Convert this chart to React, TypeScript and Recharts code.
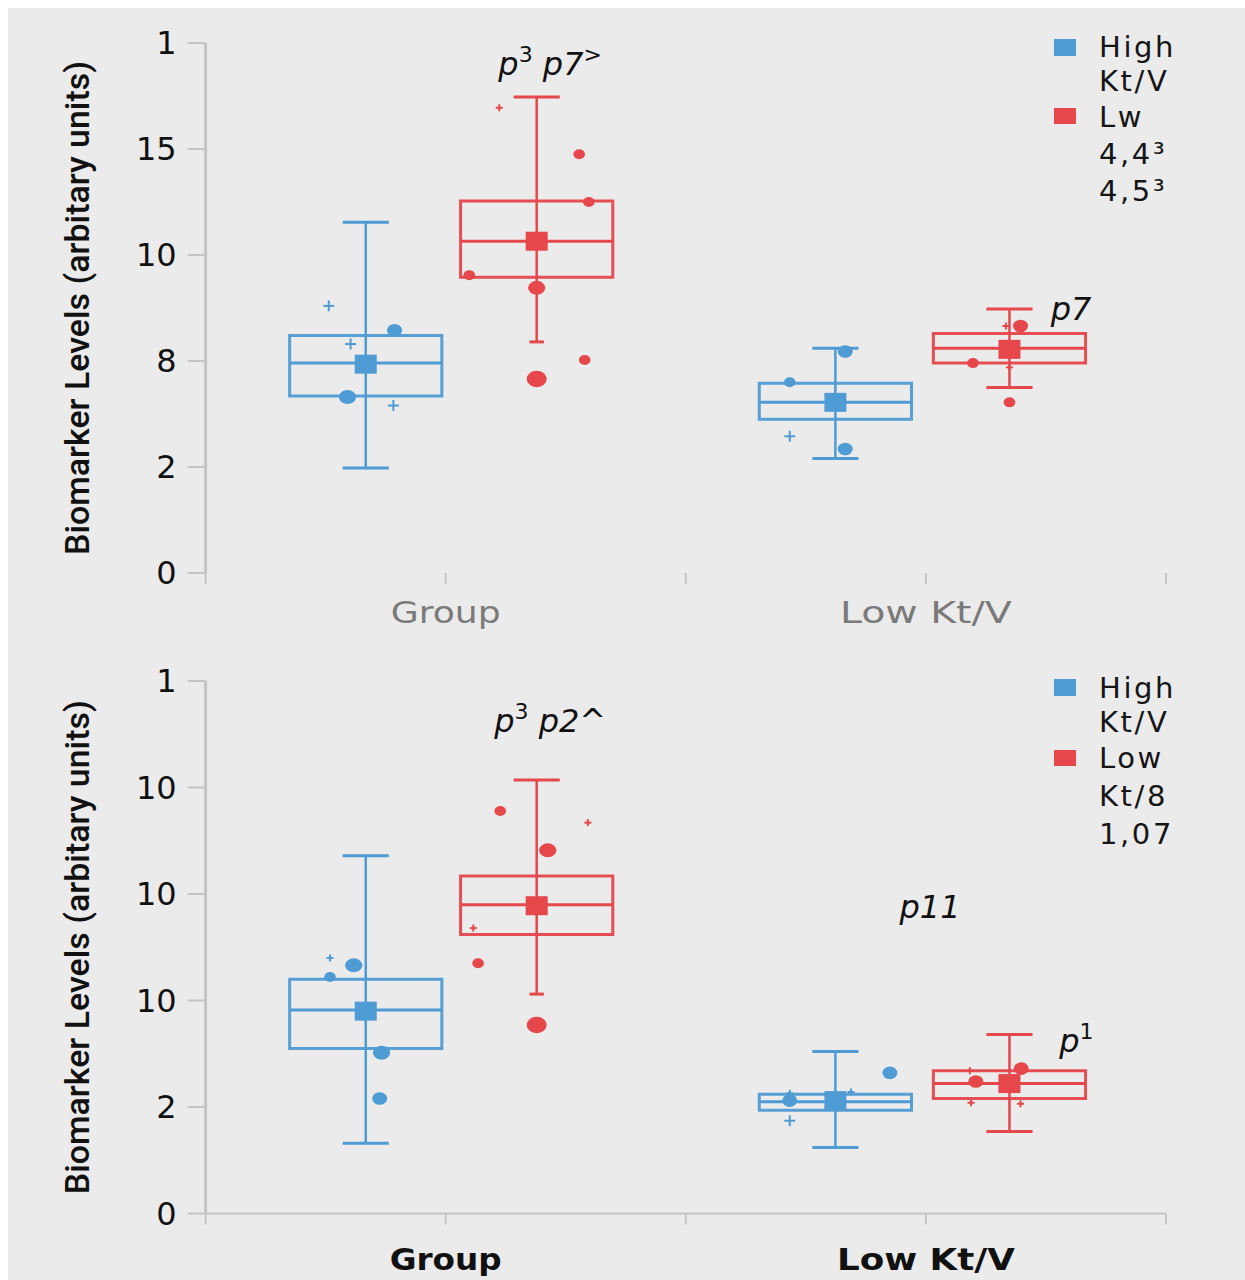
import React from 'react';
import {
  ComposedChart,
  XAxis,
  YAxis,
  Scatter,
  ReferenceArea,
  ReferenceLine,
  ReferenceDot,
  Legend,
} from 'recharts';

// ---------- data (values in axis position units: 0..5, one unit per labelled tick) ----------
const categories = ['Group', 'Low Kt/V'];
const xTickLabels = ['', categories[0], '', categories[1], ''];
const topYTickLabels = ['0', '2', '8', '10', '15', '1'];
const bottomYTickLabels = ['0', '2', '10', '10', '10', '1'];
const yAxisTitle = 'Biomarker Levels (arbitary units)';

type Stat = { min: number; q1: number; median: number; q3: number; max: number; mean: number };
type Pt = { cat: number; dx: number; y: number; kind: string };

const topHighStats: Stat[] = [
  { min: 0.99, q1: 1.67, median: 1.98, q3: 2.24, max: 3.31, mean: 1.97 },
  { min: 1.08, q1: 1.45, median: 1.61, q3: 1.79, max: 2.12, mean: 1.61 },
];
const topLowStats: Stat[] = [
  { min: 2.18, q1: 2.79, median: 3.13, q3: 3.51, max: 4.49, mean: 3.13 },
  { min: 1.75, q1: 1.98, median: 2.12, q3: 2.26, max: 2.49, mean: 2.11 },
];
const bottomHighStats: Stat[] = [
  { min: 0.66, q1: 1.55, median: 1.91, q3: 2.2, max: 3.36, mean: 1.9 },
  { min: 0.62, q1: 0.97, median: 1.05, q3: 1.12, max: 1.52, mean: 1.06 },
];
const bottomLowStats: Stat[] = [
  { min: 2.06, q1: 2.62, median: 2.9, q3: 3.17, max: 4.07, mean: 2.89 },
  { min: 0.77, q1: 1.08, median: 1.22, q3: 1.34, max: 1.68, mean: 1.22 },
];

const topHighPoints: Pt[] = [
  { cat: 0, dx: -0.154, y: 2.52, kind: 'plus' },
  { cat: 0, dx: 0.12, y: 2.29, kind: 'm' },
  { cat: 0, dx: -0.063, y: 2.16, kind: 'plus' },
  { cat: 0, dx: -0.076, y: 1.66, kind: 'l' },
  { cat: 0, dx: 0.115, y: 1.58, kind: 'plus' },
  { cat: 1, dx: 0.041, y: 2.09, kind: 'm' },
  { cat: 1, dx: -0.19, y: 1.8, kind: 's' },
  { cat: 1, dx: -0.19, y: 1.29, kind: 'plus' },
  { cat: 1, dx: 0.041, y: 1.17, kind: 'm' },
];
const topLowPoints: Pt[] = [
  { cat: 0, dx: -0.156, y: 4.39, kind: 'tick' },
  { cat: 0, dx: 0.177, y: 3.95, kind: 's' },
  { cat: 0, dx: 0.217, y: 3.5, kind: 's' },
  { cat: 0, dx: -0.281, y: 2.81, kind: 's' },
  { cat: 0, dx: 0, y: 2.69, kind: 'l' },
  { cat: 0, dx: 0.2, y: 2.01, kind: 's' },
  { cat: 0, dx: 0, y: 1.83, kind: 'xl' },
  { cat: 1, dx: 0.046, y: 2.33, kind: 'm' },
  { cat: 1, dx: -0.015, y: 2.33, kind: 'tick' },
  { cat: 1, dx: -0.152, y: 1.98, kind: 's' },
  { cat: 1, dx: 0, y: 1.94, kind: 'tick' },
  { cat: 1, dx: 0, y: 1.61, kind: 's' },
];
const bottomHighPoints: Pt[] = [
  { cat: 0, dx: -0.149, y: 2.4, kind: 'tick' },
  { cat: 0, dx: -0.149, y: 2.22, kind: 's' },
  { cat: 0, dx: -0.05, y: 2.33, kind: 'l' },
  { cat: 0, dx: 0.066, y: 1.51, kind: 'l' },
  { cat: 0, dx: 0.058, y: 1.08, kind: 'm' },
  { cat: 1, dx: -0.19, y: 1.06, kind: 'm' },
  { cat: 1, dx: -0.19, y: 1.13, kind: 'tick' },
  { cat: 1, dx: -0.19, y: 0.87, kind: 'plus' },
  { cat: 1, dx: 0.227, y: 1.32, kind: 'm' },
  { cat: 1, dx: 0.065, y: 1.14, kind: 'tick' },
];
const bottomLowPoints: Pt[] = [
  { cat: 0, dx: -0.152, y: 3.78, kind: 's' },
  { cat: 0, dx: 0.213, y: 3.67, kind: 'tick' },
  { cat: 0, dx: 0.046, y: 3.41, kind: 'l' },
  { cat: 0, dx: -0.264, y: 2.68, kind: 'tick' },
  { cat: 0, dx: -0.244, y: 2.35, kind: 's' },
  { cat: 0, dx: 0, y: 1.77, kind: 'xl' },
  { cat: 1, dx: 0.049, y: 1.36, kind: 'm' },
  { cat: 1, dx: -0.14, y: 1.24, kind: 'm' },
  { cat: 1, dx: -0.165, y: 1.34, kind: 'tick' },
  { cat: 1, dx: -0.16, y: 1.04, kind: 'tick' },
  { cat: 1, dx: 0.046, y: 1.03, kind: 'tick' },
];

const topLegendHigh = ['High', 'Kt/V'];
const topLegendLow = ['Lw', '4,4³', '4,5³'];
const bottomLegendHigh = ['High', 'Kt/V'];
const bottomLegendLow = ['Low', 'Kt/8', '1,07'];

type Part = { t: string; sup?: boolean };
type Annot = { x: number; y: number; anchor: 'start' | 'middle'; parts: Part[] };
const topAnnotations: Annot[] = [
  { x: 1.435, y: 4.7, anchor: 'middle', parts: [{ t: 'p' }, { t: '3', sup: true }, { t: ' p7' }, { t: '>', sup: true }] },
  { x: 3.52, y: 2.39, anchor: 'start', parts: [{ t: 'p7' }] },
];
const bottomAnnotations: Annot[] = [
  { x: 1.435, y: 4.52, anchor: 'middle', parts: [{ t: 'p' }, { t: '3', sup: true }, { t: ' p2^' }] },
  { x: 2.89, y: 2.775, anchor: 'start', parts: [{ t: 'p11' }] },
  { x: 3.555, y: 1.516, anchor: 'start', parts: [{ t: 'p' }, { t: '1', sup: true }] },
];

// ---------- styling / layout ----------
const BLUE = '#4f9bd3';
const RED = '#e5474b';
const BG = '#ebebeb';
const AXIS = '#c4c4c4';
const BOX_HALF = 0.317;
const CAP_HALF = 0.096;
const SHORT_CAP_HALF = 0.03;
const boxOffsets: Record<'high' | 'low', number[]> = { high: [-0.333, -0.377], low: [0.379, 0.348] };
const DOT_SIZES: Record<string, [number, number]> = {
  s: [5.8, 5],
  m: [7.5, 6.3],
  l: [8.6, 7],
  xl: [10, 8.2],
};

const centerOf = (cat: number, series: 'high' | 'low') => cat * 2 + 1 + boxOffsets[series][cat];

function boxElements(stats: Stat[], series: 'high' | 'low', color: string) {
  const els: React.ReactElement[] = [];
  stats.forEach((s, i) => {
    const c = centerOf(i, series);
    const lowCap = series === 'low' && i === 0 ? SHORT_CAP_HALF : CAP_HALF;
    const k = `${series}-${i}`;
    els.push(
      <ReferenceLine key={`${k}-w`} segment={[{ x: c, y: s.min }, { x: c, y: s.max }]} stroke={color} strokeWidth={2.5} ifOverflow="visible" />
    );
    els.push(
      <ReferenceArea key={`${k}-b`} x1={c - BOX_HALF} x2={c + BOX_HALF} y1={s.q1} y2={s.q3} fill="none" fillOpacity={0} stroke={color} strokeWidth={3} strokeOpacity={0.95} ifOverflow="visible" />
    );
    els.push(
      <ReferenceLine key={`${k}-m`} segment={[{ x: c - BOX_HALF, y: s.median }, { x: c + BOX_HALF, y: s.median }]} stroke={color} strokeWidth={3} ifOverflow="visible" />
    );
    els.push(
      <ReferenceLine key={`${k}-ct`} segment={[{ x: c - CAP_HALF, y: s.max }, { x: c + CAP_HALF, y: s.max }]} stroke={color} strokeWidth={3} ifOverflow="visible" />
    );
    els.push(
      <ReferenceLine key={`${k}-cb`} segment={[{ x: c - lowCap, y: s.min }, { x: c + lowCap, y: s.min }]} stroke={color} strokeWidth={3} ifOverflow="visible" />
    );
  });
  return els;
}

const makeShape = (color: string) => (props: any) => {
  const { cx, cy, payload } = props;
  if (cx == null || cy == null) return <g />;
  const k = payload?.kind;
  if (k === 'plus' || k === 'tick') {
    const h = k === 'plus' ? 5.5 : 3.5;
    return (
      <g stroke={color} strokeWidth={2}>
        <line x1={cx - h} y1={cy} x2={cx + h} y2={cy} />
        <line x1={cx} y1={cy - h} x2={cx} y2={cy + h} />
      </g>
    );
  }
  if (k === 'mean') {
    return <rect x={cx - 11} y={cy - 9.5} width={22} height={19} fill={color} />;
  }
  const [rx, ry] = DOT_SIZES[k] || DOT_SIZES.m;
  return <ellipse cx={cx} cy={cy} rx={rx} ry={ry} fill={color} />;
};

const toScatter = (pts: Pt[], series: 'high' | 'low') =>
  pts.map((p) => ({ x: centerOf(p.cat, series) + p.dx, y: p.y, kind: p.kind }));
const toMeans = (stats: Stat[], series: 'high' | 'low') =>
  stats.map((s, i) => ({ x: centerOf(i, series), y: s.mean, kind: 'mean' }));

const annotationShape = (a: Annot) => (props: any) => {
  const { cx, cy } = props;
  if (cx == null || cy == null) return <g />;
  const spans: React.ReactElement[] = [];
  let raised = false;
  a.parts.forEach((p, i) => {
    let dy = 0;
    if (p.sup && !raised) {
      dy = -13;
      raised = true;
    } else if (!p.sup && raised) {
      dy = 13;
      raised = false;
    }
    spans.push(
      <tspan key={i} dy={dy} fontSize={p.sup ? 22 : 32} fontStyle={p.sup ? 'normal' : 'italic'}>
        {p.t}
      </tspan>
    );
  });
  return (
    <text x={cx} y={cy} textAnchor={a.anchor} fill="#111" fontFamily="DejaVu Sans" fontSize={32} style={{ whiteSpace: 'pre' }}>
      {spans}
    </text>
  );
};

type LegendCfg = {
  top: number;
  high: string[];
  low: string[];
  highLH: number;
  lowLH: number;
  gap: number;
  blueTop: number;
  redTop: number;
};

const LegendBox = ({ cfg }: { cfg: LegendCfg }) => (
  <div style={{ fontFamily: 'DejaVu Sans', fontSize: 29, color: '#151515', letterSpacing: 2.6, textAlign: 'left' }}>
    <div style={{ position: 'relative', paddingLeft: 45, lineHeight: `${cfg.highLH}px` }}>
      <span style={{ position: 'absolute', left: 0, top: cfg.blueTop, width: 22, height: 17, background: BLUE }} />
      {cfg.high.map((t, i) => (
        <div key={i}>{t}</div>
      ))}
    </div>
    <div style={{ position: 'relative', paddingLeft: 45, lineHeight: `${cfg.lowLH}px`, marginTop: cfg.gap }}>
      <span style={{ position: 'absolute', left: 0, top: cfg.redTop, width: 22, height: 16, background: RED }} />
      {cfg.low.map((t, i) => (
        <div key={i}>{t}</div>
      ))}
    </div>
  </div>
);

type PanelProps = {
  height: number;
  marginTop: number;
  marginBottom: number;
  yTickLabels: string[];
  highStats: Stat[];
  lowStats: Stat[];
  highPts: Pt[];
  lowPts: Pt[];
  legend: LegendCfg;
  annotations: Annot[];
  bottom: boolean;
  labelWidths: number[];
  labelDy: number;
};

const WIDTH = 1237;

function Panel(p: PanelProps) {
  const renderXTick = (props: any) => {
    const { x, y, payload } = props;
    const idx = Math.round(payload?.value ?? -1);
    const label = xTickLabels[idx];
    if (!label) return <g />;
    const w = p.labelWidths[idx === 1 ? 0 : 1];
    return (
      <text
        x={x}
        y={y + p.labelDy}
        textAnchor="middle"
        fill={p.bottom ? '#111' : '#7a7a7a'}
        fontFamily="DejaVu Sans"
        fontWeight={p.bottom ? 700 : 400}
        fontSize={30}
        textLength={w}
        lengthAdjust="spacingAndGlyphs"
      >
        {label}
      </text>
    );
  };
  const renderYLabel = (props: any) => {
    const vb = props?.viewBox;
    const cy = vb && vb.height ? vb.y + vb.height / 2 : 300;
    const x = 69;
    return (
      <text
        x={x}
        y={cy}
        transform={`rotate(-90 ${x} ${cy})`}
        textAnchor="middle"
        dominantBaseline="central"
        fill="#111"
        fontFamily="Roboto"
        fontWeight={500}
        fontSize={34}
        textLength={494}
        lengthAdjust="spacingAndGlyphs"
      >
        {yAxisTitle}
      </text>
    );
  };

  return (
    <ComposedChart
      width={WIDTH}
      height={p.height}
      margin={{ top: p.marginTop, right: 79, bottom: p.marginBottom, left: 20 }}
    >
      <XAxis
        type="number"
        dataKey="x"
        domain={[0, 4]}
        ticks={[0, 1, 2, 3, 4]}
        interval={0}
        allowDataOverflow
        height={50}
        axisLine={p.bottom ? { stroke: AXIS, strokeWidth: 2 } : false}
        tickLine={{ stroke: AXIS, strokeWidth: 2 }}
        tickSize={11}
        tickMargin={0}
        tick={renderXTick}
      />
      <YAxis
        type="number"
        domain={[0, 5]}
        ticks={[0, 1, 2, 3, 4, 5]}
        interval={0}
        allowDataOverflow
        width={177.6}
        axisLine={{ stroke: AXIS, strokeWidth: 3 }}
        tickLine={{ stroke: AXIS, strokeWidth: 2 }}
        tickSize={18}
        tickMargin={11}
        tickFormatter={(v: number) => p.yTickLabels[Math.round(v)] ?? ''}
        tick={{ fill: '#111', fontSize: 32, fontFamily: 'DejaVu Sans' }}
        label={renderYLabel}
      />
      {boxElements(p.highStats, 'high', BLUE)}
      {boxElements(p.lowStats, 'low', RED)}
      <Scatter name="high-pts" data={toScatter(p.highPts, 'high')} dataKey="y" shape={makeShape(BLUE)} isAnimationActive={false} />
      <Scatter name="low-pts" data={toScatter(p.lowPts, 'low')} dataKey="y" shape={makeShape(RED)} isAnimationActive={false} />
      <Scatter name="high-mean" data={toMeans(p.highStats, 'high')} dataKey="y" shape={makeShape(BLUE)} isAnimationActive={false} />
      <Scatter name="low-mean" data={toMeans(p.lowStats, 'low')} dataKey="y" shape={makeShape(RED)} isAnimationActive={false} />
      {p.annotations.map((a, i) => (
        <ReferenceDot key={`an-${i}`} x={a.x} y={a.y} r={1} ifOverflow="visible" shape={annotationShape(a)} />
      ))}
      <Legend
        layout="vertical"
        align="center"
        verticalAlign="middle"
        wrapperStyle={{ top: p.legend.top, left: 1046, width: 190 }}
        content={() => <LegendBox cfg={p.legend} />}
      />
    </ComposedChart>
  );
}

export default function App() {
  return (
    <div
      style={{
        position: 'fixed',
        left: 8,
        top: 8,
        width: WIDTH,
        height: 1272,
        background: BG,
        overflow: 'hidden',
      }}
    >
      <div style={{ position: 'absolute', left: 0, top: 0 }}>
        <Panel
          height={632}
          marginTop={35}
          marginBottom={17}
          yTickLabels={topYTickLabels}
          highStats={topHighStats}
          lowStats={topLowStats}
          highPts={topHighPoints}
          lowPts={topLowPoints}
          legend={{ top: 22, high: topLegendHigh, low: topLegendLow, highLH: 34, lowLH: 37, gap: 1, blueTop: 9, redTop: 9 }}
          annotations={topAnnotations}
          bottom={false}
          labelWidths={[110, 172]}
          labelDy={39}
        />
      </div>
      <div style={{ position: 'absolute', left: 0, top: 632 }}>
        <Panel
          height={640}
          marginTop={41}
          marginBottom={16.5}
          yTickLabels={bottomYTickLabels}
          highStats={bottomHighStats}
          lowStats={bottomLowStats}
          highPts={bottomHighPoints}
          lowPts={bottomLowPoints}
          legend={{ top: 31, high: bottomLegendHigh, low: bottomLegendLow, highLH: 34, lowLH: 38, gap: 0, blueTop: 7.8, redTop: 10.7 }}
          annotations={bottomAnnotations}
          bottom={true}
          labelWidths={[112, 178]}
          labelDy={45.5}
        />
      </div>
    </div>
  );
}
